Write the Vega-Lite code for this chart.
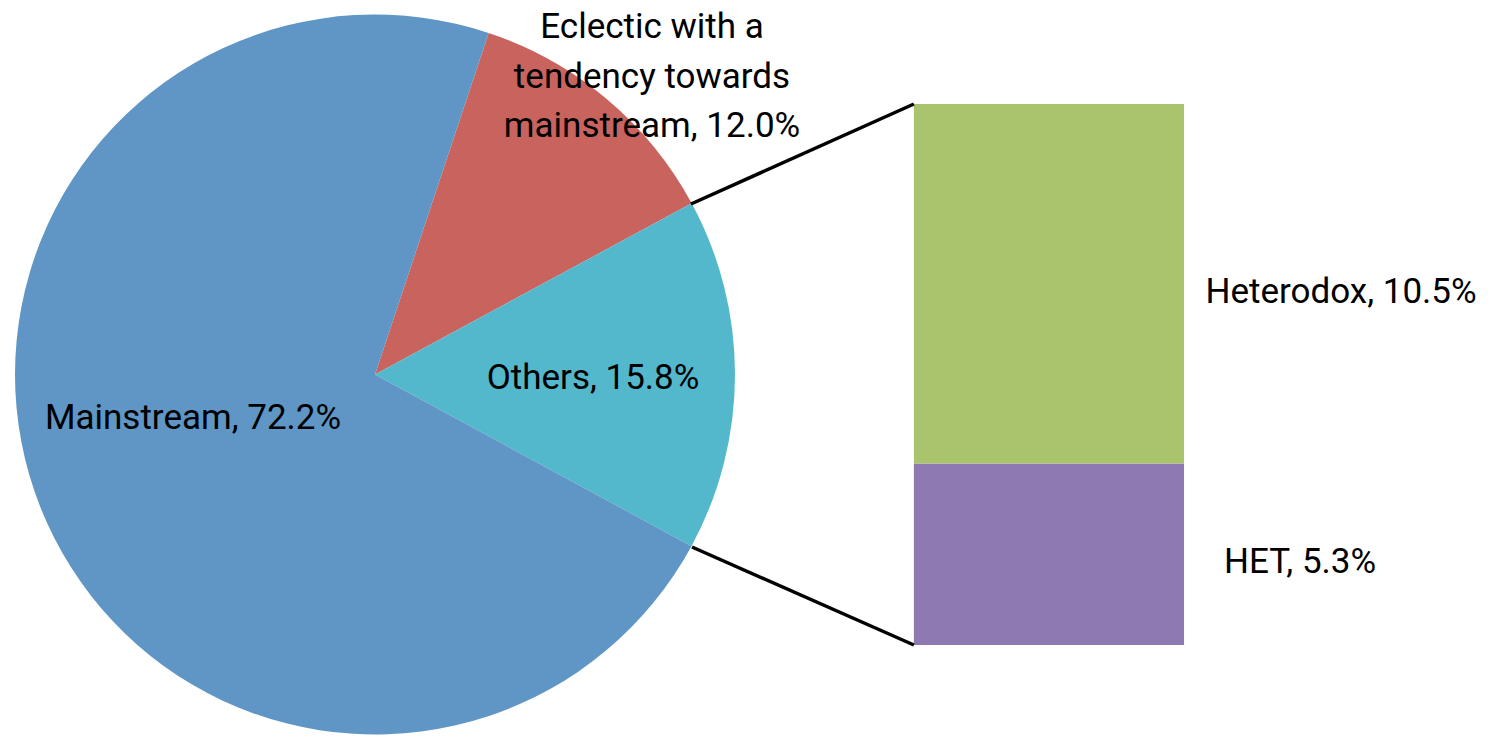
{
  "$schema": "https://vega.github.io/schema/vega-lite/v6.json",
  "width": 1497,
  "height": 737,
  "autosize": {"type": "fit", "contains": "padding"},
  "padding": 0,
  "background": "white",
  "config": {"view": {"stroke": null}},
  "datasets": {
    "pie": [
      {"category": "Eclectic", "label": "Eclectic with a\ntendency towards\nmainstream, 12.0%", "share": 12.0, "rank": 1},
      {"category": "Others", "label": "Others, 15.8%", "share": 15.8, "rank": 2},
      {"category": "Mainstream", "label": "Mainstream, 72.2%", "share": 72.2, "rank": 3}
    ],
    "bar": [
      {"category": "HET", "label": "HET, 5.3%", "share": 5.3, "rank": 1},
      {"category": "Heterodox", "label": "Heterodox, 10.5%", "share": 10.5, "rank": 2}
    ]
  },
  "layer": [
    {
      "data": {"name": "pie"},
      "mark": {"type": "arc", "radius": 360},
      "encoding": {
        "theta": {"field": "share", "type": "quantitative", "stack": true, "scale": {"range": [0.3211, 6.6043]}},
        "order": {"field": "rank", "type": "quantitative"},
        "color": {"field": "category", "type": "nominal", "legend": null,
          "scale": {"domain": ["Mainstream", "Eclectic", "Others", "Heterodox", "HET"], "range": ["#5F96C5", "#C9635D", "#54B8CD", "#AAC46E", "#8F79B2"]}},
        "x": {"datum": 10.952, "type": "quantitative", "scale": {"domain": [0, 43.72], "nice": false, "zero": false}, "axis": null},
        "y": {"datum": 7.9, "type": "quantitative", "scale": {"domain": [-2.687, 18.838], "nice": false, "zero": false}, "axis": null}
      }
    },
    {
      "data": {"name": "bar"},
      "transform": [{"stack": "share", "groupby": [], "sort": [{"field": "rank", "order": "ascending"}], "as": ["y0", "y1"]}],
      "mark": {"type": "rect"},
      "encoding": {
        "x": {"datum": 26.69, "type": "quantitative", "scale": {"domain": [0, 43.72], "nice": false, "zero": false}, "axis": null},
        "x2": {"datum": 34.58},
        "y": {"field": "y0", "type": "quantitative", "scale": {"domain": [-2.687, 18.838], "nice": false, "zero": false}, "axis": null},
        "y2": {"field": "y1"},
        "color": {"field": "category", "type": "nominal", "legend": null}
      }
    },
    {
      "data": {"values": [{"connector": "top"}]},
      "mark": {"type": "rule", "color": "black", "strokeWidth": 3.5},
      "encoding": {
        "x": {"datum": 20.18, "type": "quantitative", "scale": {"domain": [0, 43.72], "nice": false, "zero": false}, "axis": null},
        "y": {"datum": 12.88, "type": "quantitative", "scale": {"domain": [-2.687, 18.838], "nice": false, "zero": false}, "axis": null},
        "x2": {"datum": 26.69},
        "y2": {"datum": 15.8}
      }
    },
    {
      "data": {"values": [{"connector": "bottom"}]},
      "mark": {"type": "rule", "color": "black", "strokeWidth": 3.5},
      "encoding": {
        "x": {"datum": 20.21, "type": "quantitative", "scale": {"domain": [0, 43.72], "nice": false, "zero": false}, "axis": null},
        "y": {"datum": 2.862, "type": "quantitative", "scale": {"domain": [-2.687, 18.838], "nice": false, "zero": false}, "axis": null},
        "x2": {"datum": 26.69},
        "y2": {"datum": 0}
      }
    },
    {
      "data": {"name": "pie"},
      "transform": [{"filter": "datum.category === 'Mainstream'"}],
      "mark": {"type": "text", "font": "Roboto", "fontSize": 35, "align": "center", "baseline": "alphabetic", "color": "black"},
      "encoding": {
        "text": {"field": "label"},
        "x": {"datum": 5.637, "type": "quantitative", "scale": {"domain": [0, 43.72], "nice": false, "zero": false}, "axis": null},
        "y": {"datum": 6.308, "type": "quantitative", "scale": {"domain": [-2.687, 18.838], "nice": false, "zero": false}, "axis": null}
      }
    },
    {
      "data": {"name": "pie"},
      "transform": [{"filter": "datum.category === 'Others'"}],
      "mark": {"type": "text", "font": "Roboto", "fontSize": 35, "align": "center", "baseline": "alphabetic", "color": "black"},
      "encoding": {
        "text": {"field": "label"},
        "x": {"datum": 17.319, "type": "quantitative", "scale": {"domain": [0, 43.72], "nice": false, "zero": false}, "axis": null},
        "y": {"datum": 7.477, "type": "quantitative", "scale": {"domain": [-2.687, 18.838], "nice": false, "zero": false}, "axis": null}
      }
    },
    {
      "data": {"name": "pie"},
      "transform": [{"filter": "datum.category === 'Eclectic'"}],
      "mark": {"type": "text", "font": "Roboto", "fontSize": 35, "align": "center", "baseline": "alphabetic", "lineBreak": "\n", "lineHeight": 49.5, "color": "black"},
      "encoding": {
        "text": {"field": "label"},
        "x": {"datum": 19.042, "type": "quantitative", "scale": {"domain": [0, 43.72], "nice": false, "zero": false}, "axis": null},
        "y": {"datum": 17.728, "type": "quantitative", "scale": {"domain": [-2.687, 18.838], "nice": false, "zero": false}, "axis": null}
      }
    },
    {
      "data": {"name": "bar"},
      "transform": [{"filter": "datum.category === 'Heterodox'"}],
      "mark": {"type": "text", "font": "Roboto", "fontSize": 35, "align": "center", "baseline": "alphabetic", "color": "black"},
      "encoding": {
        "text": {"field": "label"},
        "x": {"datum": 39.165, "type": "quantitative", "scale": {"domain": [0, 43.72], "nice": false, "zero": false}, "axis": null},
        "y": {"datum": 9.988, "type": "quantitative", "scale": {"domain": [-2.687, 18.838], "nice": false, "zero": false}, "axis": null}
      }
    },
    {
      "data": {"name": "bar"},
      "transform": [{"filter": "datum.category === 'HET'"}],
      "mark": {"type": "text", "font": "Roboto", "fontSize": 35, "align": "center", "baseline": "alphabetic", "color": "black"},
      "encoding": {
        "text": {"field": "label"},
        "x": {"datum": 37.967, "type": "quantitative", "scale": {"domain": [0, 43.72], "nice": false, "zero": false}, "axis": null},
        "y": {"datum": 2.103, "type": "quantitative", "scale": {"domain": [-2.687, 18.838], "nice": false, "zero": false}, "axis": null}
      }
    }
  ]
}
